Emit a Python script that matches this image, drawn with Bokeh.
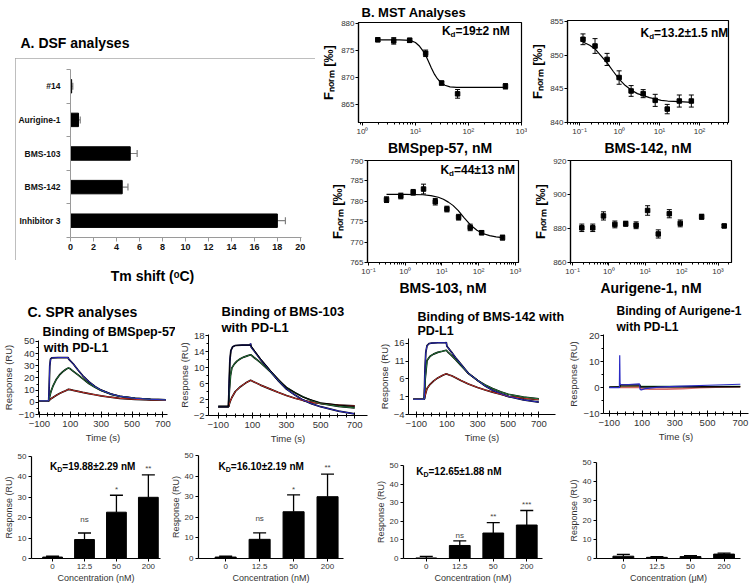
from bokeh.plotting import figure
from bokeh.models import (Range1d, FixedTicker, LogTicker, CustomJSTickFormatter, Label, Title,
                          Whisker, TeeHead, ColumnDataSource, Spacer)
from bokeh.layouts import row, column
from bokeh.embed import file_html
from bokeh.resources import INLINE
from bokeh.core.properties import value

FONT = "Liberation Sans"

# ---------------- A. DSF ----------------
dsf_labels = ["#14", "Aurigine-1", "BMS-103", "BMS-142", "Inhibitor 3"]
dsf_shift = [0.1, 0.7, 5.2, 4.5, 18.0]
dsf_err = [0.1, 0.15, 0.6, 0.5, 0.7]
dsf_ticks = [0, 2, 4, 6, 8, 10, 12, 14, 16, 18, 20]

# ---------------- B. MST ----------------
m1_conc = [1.95, 3.9, 7.8, 15.6, 31.25, 62.5, 500]
m1_fnorm = [876.9, 876.7, 876.8, 874.4, 868.9, 866.9, 868.3]
m1_err = [0.35, 0.6, 0.4, 0.6, 0.35, 0.8, 0.5]
m1_fit_x = [1.95, 5, 8, 10, 12, 14, 16, 18, 20, 23, 26, 30, 36, 45, 60, 100, 500]
m1_fit_y = [876.9, 876.9, 876.8, 876.4, 875.7, 874.8, 873.8, 872.7, 871.7, 870.5, 869.7, 869.0, 868.5,
            868.2, 868.1, 868.1, 868.1]

m2_conc = [0.122, 0.244, 0.488, 0.977, 1.95, 3.9, 7.8, 15.6, 31.25, 62.5]
m2_fnorm = [852.4, 851.4, 849.4, 846.7, 844.7, 844.3, 843.3, 842.0, 843.2, 843.2]
m2_err = [0.8, 1.1, 0.9, 1.0, 0.8, 0.6, 0.9, 0.7, 0.9, 0.9]
m2_fit_x = [0.122, 0.18, 0.25, 0.35, 0.5, 0.7, 1.0, 1.4, 2.0, 2.8, 4.0, 5.6, 8, 11, 16, 32, 64]
m2_fit_y = [852.0, 851.5, 850.9, 849.9, 848.8, 847.6, 846.4, 845.5, 844.8, 844.3, 844.0, 843.7, 843.5,
            843.3, 843.2, 843.1, 843.0]

m3_conc = [0.31, 0.76, 1.65, 3.16, 6.6, 13.7, 28.5, 59, 121, 448]
m3_fnorm = [780.4, 781.3, 782.2, 783.0, 779.9, 778.1, 776.1, 773.6, 772.3, 771.1]
m3_err = [0.7, 0.7, 0.7, 1.2, 0.8, 0.7, 0.7, 0.8, 0.5, 0.6]
m3_fit_x = [0.31, 1, 3, 5, 8, 11, 15, 20, 28, 40, 60, 90, 130, 200, 300, 450]
m3_fit_y = [781.7, 781.7, 781.6, 781.4, 781.0, 780.5, 779.8, 779.0, 777.7, 776.0, 774.2, 772.9, 772.1,
            771.6, 771.3, 771.1]

m4_conc = [0.18, 0.36, 0.71, 1.46, 2.9, 5.6, 11.6, 22.8, 45.8, 91.6, 355, 1480]
m4_fnorm = [880.4, 880.4, 887.4, 882.4, 882.8, 881.9, 890.6, 876.8, 888.7, 883.0, 886.9, 881.5]
m4_err = [2.2, 2.2, 2.4, 2.0, 1.5, 2.0, 2.8, 2.4, 2.4, 2.0, 1.5, 1.0]

# ---------------- C. SPR sensorgrams ----------------
s1_blue_t = [-100, -40, -37, -33, -28, -20, 20, 86, 90, 120, 150, 180, 220, 260, 300, 360, 420, 520, 620, 720]
s1_blue_y = [1.2, 1.2, 12, 30, 35.5, 36.5, 36.8, 36.8, 35.5, 31.5, 26.5, 22, 17, 13, 10, 7, 5, 3.3, 2.5, 2.0]
s1_green_t = [-100, -40, -35, -25, -10, 10, 30, 50, 70, 88, 100, 120, 150, 180, 220, 260, 300, 360, 420, 520,
              620, 720]
s1_green_y = [1.2, 1.2, 4, 9, 14, 19, 22.5, 25, 27, 28.3, 27.5, 25.5, 22.5, 19.5, 15.5, 12.3, 9.8, 6.8, 5, 3.3,
              2.4, 2.0]
s1_red_t = [-100, -40, -30, -10, 10, 30, 50, 70, 88, 100, 120, 150, 180, 220, 260, 300, 360, 420, 520, 620, 720]
s1_red_y = [1.2, 1.2, 2.5, 4.2, 5.8, 7.2, 8.4, 9.6, 10.7, 10.4, 9.8, 9, 8.2, 7.2, 6.2, 5.3, 4.2, 3.3, 2.5, 2.0,
            1.7]

s2_blue_t = [-100, -40, -36, -32, -26, -15, 0, 40, 86, 90, 93, 120, 148, 180, 205, 250, 300, 350, 396, 450, 500,
             605, 700]
s2_blue_y = [0.2, 0.2, 6, 11.5, 14.2, 15.2, 15.5, 15.6, 15.6, 16.0, 15.1, 13.6, 12.0, 10.4, 9.1, 6.8, 4.6, 3.1,
             1.9, 0.9, 0.2, -0.9, -1.6]
s2_bluefit_t = [-100, -40, -36, -32, -26, -15, 0, 40, 90, 120, 148, 205, 300, 396, 500, 605, 700]
s2_bluefit_y = [0.2, 0.2, 6, 11.5, 14.2, 15.2, 15.5, 15.6, 15.6, 13.8, 12.2, 9.3, 5.0, 2.6, 1.2, 0.6, 0.3]
s2_green_t = [-100, -40, -35, -28, -20, -5, 10, 30, 50, 70, 90, 110, 148, 205, 250, 300, 350, 396, 450, 500,
              605, 700]
s2_green_y = [0.2, 0.2, 4, 8, 9.9, 10.9, 11.6, 12.2, 12.6, 12.9, 13.2, 12.5, 11.2, 9.0, 6.9, 5.0, 3.7, 2.7, 1.7,
              1.0, 0.3, -0.1]
s2_red_t = [-100, -40, -30, -20, 0, 30, 60, 90, 110, 148, 205, 250, 300, 350, 396, 450, 500, 605, 700]
s2_red_y = [0.2, 0.2, 1.5, 2.5, 4.0, 5.2, 6.1, 6.8, 6.4, 5.6, 4.6, 3.8, 3.0, 2.3, 1.8, 1.3, 1.0, 0.6, 0.4]

s3_blue_t = [-120, -48, -44, -38, -30, -15, 0, 40, 93, 96, 100, 131, 160, 191, 240, 300, 350, 398, 450, 500,
             600, 700]
s3_blue_y = [0.3, 0.3, 8, 13.5, 15.4, 16.0, 16.1, 16.2, 16.2, 16.3, 15.2, 13.5, 11.8, 10.2, 7.6, 5.6, 4.0, 2.8,
             1.9, 1.1, 0.1, -0.5]
s3_green_t = [-120, -48, -42, -30, -10, 12, 40, 70, 96, 110, 131, 160, 191, 240, 300, 350, 398, 450, 500, 600,
              700]
s3_green_y = [0.3, 0.3, 6, 11.2, 12.4, 13.0, 13.5, 13.8, 14.1, 13.4, 12.6, 11.3, 9.8, 7.6, 5.6, 4.3, 3.3, 2.4,
              1.7, 0.9, 0.4]
s3_red_t = [-120, -48, -40, -30, -10, 12, 40, 70, 96, 110, 131, 160, 191, 240, 300, 350, 398, 450, 500, 600, 700]
s3_red_y = [0.3, 0.3, 1.8, 3.3, 4.5, 5.4, 6.3, 7.0, 7.5, 7.2, 6.9, 6.3, 5.6, 4.6, 3.6, 2.9, 2.3, 1.7, 1.1, 0.6,
            0.2]

s4_blue_t = [-100, -38, -36, -34, -30, 0, 40, 85, 88, 95, 120, 200, 300, 400, 500, 600, 700]
s4_blue_y = [0, 0, 12.5, 1.5, 1.2, 1.1, 1.3, 1.4, -0.6, -0.9, -0.4, 0.2, 0.5, 0.7, 0.9, 1.1, 1.3]
s4_black_t = [-100, -36, -34, 88, 90, 700]
s4_black_y = [0.2, 0.2, 1.0, 1.0, 0.2, 0.3]
s4_red_t = [-36, 88, 92, 150, 250, 350, 450, 550, 700]
s4_red_y = [0.1, 0.2, -0.4, -0.6, -0.6, -0.4, 0.0, 0.2, 0.3]
s4_green_t = [-100, -36, 88, 700]
s4_green_y = [0.1, 0.4, 0.5, 0.5]

spr_ticks = [-100, 100, 300, 500, 700]
spr_minor = [-100, -50, 0, 50, 100, 150, 200, 250, 300, 350, 400, 450, 500, 550, 600, 650, 700]

# ---------------- C. SPR bar charts ----------------
bar_cats = ["0", "12.5", "50", "200"]
b1_vals = [0.7, 9.3, 22.7, 30.0]
b1_err = [0.4, 3.2, 8.3, 11.0]
b1_sig = ["", "ns", "*", "**"]
b1_sig_y = [1.1, 17.0, 31.5, 42.0]
b2_vals = [0.7, 9.3, 22.7, 30.0]
b2_err = [0.4, 3.1, 8.2, 11.0]
b2_sig = ["", "ns", "*", "**"]
b2_sig_y = [1.1, 17.0, 31.5, 42.0]
b3_vals = [0.3, 7.0, 13.7, 18.0]
b3_err = [0.8, 2.5, 5.6, 7.8]
b3_sig = ["", "ns", "**", "***"]
b3_sig_y = [1.1, 10.0, 20.0, 26.5]
b4_vals = [1.2, 0.6, 1.0, 2.3]
b4_err = [0.9, 0.4, 0.5, 0.5]

BLUE, GREEN, RED = "#2a2ac4", "#23783a", "#c8302a"


def make_fig(w, h, l, r, t, b, xr, yr, xtype="linear", **kw):
    p = figure(width=w, height=h, x_range=xr, y_range=yr, x_axis_type=xtype,
               output_backend="svg", toolbar_location=None, frame_align=False,
               min_border_left=l, min_border_right=r, min_border_top=t, min_border_bottom=b, **kw)
    p.title.visible = False
    p.grid.visible = False
    p.outline_line_color = None
    for ax in p.axis:
        ax.axis_label_text_font = FONT
        ax.major_label_text_font = FONT
        ax.axis_label_text_font_style = "normal"
        ax.axis_line_color = "black"
        ax.major_tick_line_color = "black"
        ax.minor_tick_line_color = "black"
        ax.major_label_text_color = "#222222"
        ax.axis_label_text_color = "#222222"
        ax.major_label_standoff = 2
        ax.axis_label_standoff = 2
    return p


def text_fig(w, h):
    p = figure(width=w, height=h, x_range=Range1d(0, 1), y_range=Range1d(0, 1),
               x_axis_location=None, y_axis_location=None, output_backend="svg",
               toolbar_location=None, min_border=0, frame_align=False)
    p.title.visible = False
    p.grid.visible = False
    p.outline_line_color = None
    return p


def add_text(p, x, y, text, size, bold=False, align="left", color="black", units="data", dx=0, dy=0):
    p.add_layout(Label(x=x, y=y, x_units=units, y_units=units, x_offset=dx, y_offset=dy, text=text,
                       text_font=FONT, text_font_size=f"{size}px",
                       text_font_style="bold" if bold else "normal",
                       text_align=align, text_baseline="middle", text_color=color))


def add_title(p, text, size, offset, standoff=0, line_height=1.0):
    p.add_layout(Title(text=text, align="left", offset=offset, standoff=standoff, text_font=FONT,
                       text_font_size=f"{size}px", text_font_style="bold", text_color="black",
                       text_line_height=line_height), "above")


def add_k(p, x, y, sub, rest, size, sub_size):
    kw = 0.722 * size
    sw = (0.722 if sub == "D" else 0.611) * sub_size
    add_text(p, x, y, "K", size, bold=True)
    add_text(p, x, y, sub, sub_size, bold=True, dx=kw, dy=-0.3 * size)
    add_text(p, x, y, rest, size, bold=True, dx=kw + sw)


SUP = CustomJSTickFormatter(code="""
const s = {"-":"\u207b","0":"\u2070","1":"\u00b9","2":"\u00b2","3":"\u00b3","4":"\u2074","5":"\u2075"};
const e = Math.round(Math.log10(tick));
return "10" + String(e).split("").map(c => s[c]).join("");
""")

# ================= Panel A =================
headA = text_fig(318, 58)
add_text(headA, 20, 16, "A. DSF analyses", 14, bold=True, units="screen")
footA = text_fig(318, 38)
add_text(footA, 152, 23, "Tm shift (\u1d52C)", 14, bold=True, align="center", units="screen")

pA = make_fig(300, 202, 50, 14, 11, 23, Range1d(0, 20.1), Range1d(0.5, 5.5),
              styles={"outline": "1.5px solid #a8a8a8", "outline-offset": "-1.5px"})
posA = list(range(len(dsf_labels), 0, -1))
pA.hbar(y=posA, left=0, right=dsf_shift, height=0.4, color="black")
srcA = ColumnDataSource(dict(y=posA, lo=dsf_shift, hi=[v + e for v, e in zip(dsf_shift, dsf_err)]))
pA.add_layout(Whisker(source=srcA, base="y", lower="lo", upper="hi", dimension="width",
                      line_color="#808080", line_width=1.2, lower_head=None,
                      upper_head=TeeHead(size=7, line_color="#808080", line_width=1.2)))
pA.xaxis.ticker = FixedTicker(ticks=dsf_ticks)
pA.yaxis.ticker = FixedTicker(ticks=posA, minor_ticks=[q - 0.5 for q in posA] + [len(posA) + 0.5])
pA.yaxis.major_label_overrides = {q: lab for q, lab in zip(posA, dsf_labels)}
for ax in pA.axis:
    ax.axis_line_color = "#9a9a9a"
    ax.major_tick_line_color = "#9a9a9a"
    ax.minor_tick_line_color = "#9a9a9a"
    ax.major_label_text_font_style = "bold"
    ax.major_label_text_color = "#111111"
pA.xaxis.major_label_text_font_size = "9px"
pA.xaxis.major_tick_in = 0
pA.xaxis.major_tick_out = 4
pA.xaxis.major_label_standoff = 2
pA.yaxis.major_label_text_font_size = "8.5px"
pA.yaxis.major_tick_out = 0
pA.yaxis.major_tick_in = 0
pA.yaxis.minor_tick_out = 4
pA.yaxis.minor_tick_in = 0
pA.yaxis.major_label_standoff = 6

colA = column(headA, row(Spacer(width=15, height=202), pA, Spacer(width=3, height=202)), footA)


# ================= Panel B (MST) =================
def mst(w, h, l, r, t, b, xr, yr, xs, ys, es, fx, fy, yticks, xlabel):
    p = make_fig(w, h, l, r, t, b, xr, yr, "log")
    p.outline_line_color = "black"
    p.outline_line_width = 1.2
    if fx is not None:
        p.line(fx, fy, color="black", line_width=1.2)
    src = ColumnDataSource(dict(x=xs, lo=[y - e for y, e in zip(ys, es)], hi=[y + e for y, e in zip(ys, es)]))
    p.add_layout(Whisker(source=src, base="x", lower="lo", upper="hi", line_color="black", line_width=1,
                         upper_head=TeeHead(size=5, line_color="black", line_width=1),
                         lower_head=TeeHead(size=5, line_color="black", line_width=1)))
    p.scatter(xs, ys, marker="square", size=4.5, color="black")
    p.xaxis.ticker = LogTicker(num_minor_ticks=10)
    p.xaxis.formatter = SUP
    p.yaxis.ticker = FixedTicker(ticks=yticks)
    for ax in p.axis:
        ax.major_label_text_font_size = "8px"
        ax.major_label_text_color = "#333333"
        ax.major_tick_out = 3
        ax.major_tick_in = 0
        ax.minor_tick_out = 2
        ax.minor_tick_in = 0
        ax.axis_line_width = 1.2
        ax.axis_label_text_font_style = "bold"
        ax.axis_label_text_color = "black"
        ax.major_label_standoff = 1
    p.xaxis.axis_label = xlabel
    p.xaxis.axis_label_text_font_size = "14px"
    p.xaxis.axis_label_standoff = 1
    p.yaxis.axis_label = "F\u2099\u2092\u1d63\u2098 [\u2030]"
    p.yaxis.axis_label_text_font_size = "13px"
    p.yaxis.axis_label_standoff = 2
    return p


m1 = mst(209, 158, 37, 6, 20, 30, Range1d(0.843, 1005), Range1d(861.6, 880.1),
         m1_conc, m1_fnorm, m1_err, m1_fit_x, m1_fit_y, [865, 870, 875, 880], "BMSpep-57, nM")
add_title(m1, "B. MST Analyses", 13, 3, standoff=5)
add_k(m1, 31.6, 878.5, "d", "=19\u00b12 nM", 12, 8)

m2 = mst(225, 158, 40, 24, 20, 30, Range1d(0.05, 531), Range1d(840, 855.2),
         m2_conc, m2_fnorm, m2_err, m2_fit_x, m2_fit_y, [840, 845, 850, 855], "BMS-142, nM")
add_k(m2, 3.35, 853.3, "d", "=13.2\u00b11.5 nM", 12, 8)

m3 = mst(209, 140, 49, 9, 2, 36, Range1d(0.094, 1222), Range1d(765, 790),
         m3_conc, m3_fnorm, m3_err, m3_fit_x, m3_fit_y, [765, 770, 775, 780, 785, 790], "BMS-103, nM")
add_k(m3, 9.1, 787.7, "d", "=44\u00b113 nM", 12, 8)

m4 = mst(225, 140, 43, 21, 2, 31, Range1d(0.088, 2350), Range1d(860, 920),
         m4_conc, m4_fnorm, m4_err, None, None, [860, 880, 900, 920], "Aurigene-1, nM")

mstB = column(row(m1, m2), row(m3, m4))


# ================= Panel C (SPR sensorgrams) =================
def spr(w, h, l, r, t, b, xr, yr, yticks, yminor):
    p = make_fig(w, h, l, r, t, b, xr, yr)
    p.xaxis.ticker = FixedTicker(ticks=spr_ticks, minor_ticks=spr_minor)
    p.yaxis.ticker = FixedTicker(ticks=yticks, minor_ticks=yminor)
    for ax in p.axis:
        ax.major_label_text_font_size = "9.5px"
        ax.major_label_text_color = "#333333"
        ax.axis_label_text_font_size = "9.5px"
        ax.axis_label_text_color = "#333333"
        ax.major_tick_out = 3
        ax.minor_tick_out = 2
        ax.minor_tick_in = 0
        ax.major_label_standoff = 1
        ax.axis_label_standoff = 1
    p.xaxis.major_tick_in = 3
    p.xaxis.minor_tick_in = 2
    p.yaxis.major_tick_in = 0
    p.xaxis.axis_label = "Time (s)"
    p.yaxis.axis_label = "Response (RU)"
    p.xaxis.major_label_standoff = 3
    p.xaxis.axis_label_standoff = 2
    return p


def curves(p, pairs):
    for t, y, c in pairs:
        p.line(t, y, color="black", line_width=1.7)
    for t, y, c in pairs:
        p.line(t, y, color=c, line_width=1.0)


s1 = spr(175, 148, 31, 8, 42, 32, Range1d(-106, 730), Range1d(-10, 50.8),
         [-10, 0, 10, 20, 30, 40, 50], [-5, 5, 15, 25, 35, 45])
curves(s1, [(s1_red_t, s1_red_y, RED), (s1_green_t, s1_green_y, GREEN), (s1_blue_t, s1_blue_y, BLUE)])
add_title(s1, "Binding of BMSpep-57", 12.5, 4, standoff=3)
add_title(s1, "C. SPR analyses", 14, -11, standoff=4)
add_text(s1, -72, 45.0, "with PD-L1", 12.5, bold=True)

s2 = spr(200, 148, 30, 8, 36, 31, Range1d(-157, 775), Range1d(-2, 18.25),
         [-2, 2, 6, 10, 14, 18], [0, 4, 8, 12, 16])
curves(s2, [(s2_red_t, s2_red_y, RED), (s2_green_t, s2_green_y, GREEN), (s2_blue_t, s2_blue_y, BLUE)])
s2.line(s2_bluefit_t, s2_bluefit_y, color="black", line_width=1)
add_title(s2, "Binding of BMS-103\nwith PD-L1", 13, 13, line_height=1.05)

s3 = spr(190, 148, 30, 10, 40, 32, Range1d(-151, 809), Range1d(-4, 17.4),
         [-4, 1, 6, 11, 16], [])
curves(s3, [(s3_red_t, s3_red_y, RED), (s3_green_t, s3_green_y, GREEN), (s3_blue_t, s3_blue_y, BLUE)])
add_title(s3, "Binding of BMS-142 with\nPD-L1", 12.5, 9, line_height=1.05)

s4 = spr(187, 148, 32, 4, 36, 33, Range1d(-135, 750), Range1d(-10, 20.5),
         [-10, 0, 10, 20], [-5, 5, 15])
s4.line(s4_green_t, s4_green_y, color=GREEN, line_width=1.2)
s4.line(s4_red_t, s4_red_y, color=RED, line_width=1.6, alpha=0.7)
s4.line(s4_black_t, s4_black_y, color="black", line_width=1.5)
s4.line(s4_blue_t, s4_blue_y, color=BLUE, line_width=1.2)
add_title(s4, "Binding of Aurigene-1\nwith PD-L1", 12, 13, line_height=1.15)


# ================= Panel C (bars) =================
def bars(w, h, l, r, t, b, xr, vals, errs, sig, sig_y, xlabel):
    p = make_fig(w, h, l, r, t, b, xr, Range1d(0, 50))
    pos = list(range(1, len(bar_cats) + 1))
    p.vbar(x=pos, top=vals, width=0.62, color="black")
    tops = [v + e for v, e in zip(vals, errs)]
    src = ColumnDataSource(dict(x=pos, lo=vals, hi=tops))
    p.add_layout(Whisker(source=src, base="x", lower="lo", upper="hi", line_color="black", line_width=1.3,
                         lower_head=None, upper_head=TeeHead(size=13, line_color="black", line_width=1.3)))
    if sig is not None:
        p.text(x=pos, y=sig_y, text=sig, text_font=value(FONT), text_font_size="8px", text_align="center",
               text_baseline="bottom", text_color="#444444")
    p.xaxis.ticker = FixedTicker(ticks=pos)
    p.xaxis.major_label_overrides = {q: c for q, c in zip(pos, bar_cats)}
    p.yaxis.ticker = FixedTicker(ticks=[0, 10, 20, 30, 40, 50])
    for ax in p.axis:
        ax.major_label_text_font_size = "8px"
        ax.major_label_text_color = "#333333"
        ax.axis_label_text_font_size = "9px"
        ax.axis_label_text_color = "#333333"
        ax.major_tick_out = 3
        ax.major_tick_in = 0
        ax.axis_line_width = 1.2
        ax.axis_label_standoff = 1
        ax.major_label_standoff = 2
    p.xaxis.axis_label = xlabel
    p.yaxis.axis_label = "Response (RU)"
    return p


b1 = bars(165, 139, 25, 5, 10, 27, Range1d(0.34, 4.38), b1_vals, b1_err, b1_sig, b1_sig_y,
          "Concentration (nM)")
add_k(b1, 0.92, 45.3, "D", "=19.88\u00b12.29 nM", 10, 7)
b2 = bars(207, 139, 33, 29, 9, 27, Range1d(0.2, 4.47), b2_vals, b2_err, b2_sig, b2_sig_y,
          "Concentration (nM)")
add_k(b2, 0.79, 44.6, "D", "=16.10\u00b12.19 nM", 10, 7)
b3 = bars(193, 139, 30, 23, 19, 26, Range1d(0.32, 4.47), b3_vals, b3_err, b3_sig, b3_sig_y,
          "Concentration (nM)")
add_k(b3, 0.7, 46.9, "D", "=12.65\u00b11.88 nM", 10, 7)
b4 = bars(187, 139, 25, 12, 16, 26, Range1d(0.2, 4.49), b4_vals, b4_err, None, None,
          "Concentration (\u03bcM)")

layout = column(
    row(colA, mstB),
    row(s1, s2, s3, s4),
    row(b1, b2, b3, b4),
)

with open("out.html", "w") as f:
    f.write(file_html(layout, INLINE))
